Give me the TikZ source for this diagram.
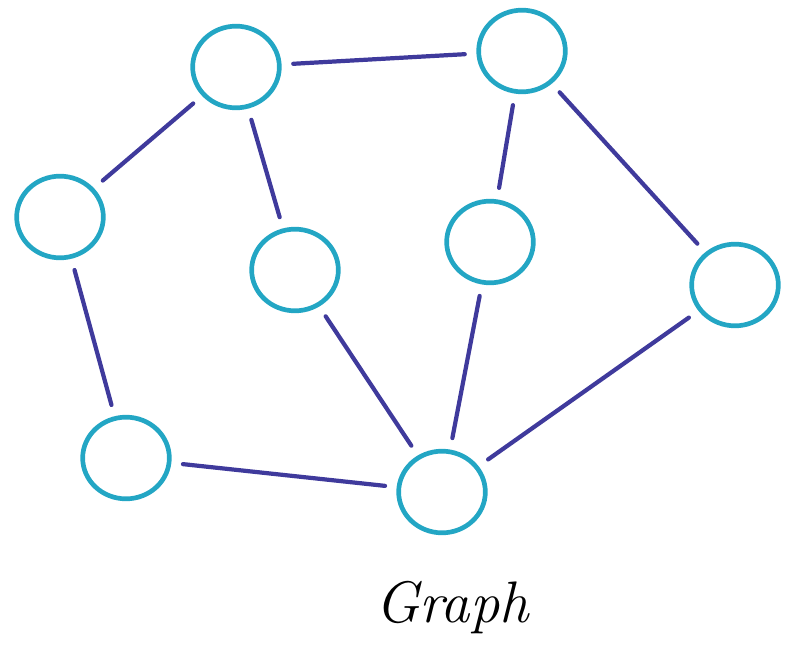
\documentclass[tikz,border=0pt]{standalone}
\usepackage{fontspec}
\usepackage{tikz}
\usetikzlibrary{shapes.geometric, calc}
\definecolor{vertexcol}{HTML}{23A6C4}
\definecolor{edgecol}{HTML}{3F3A9C}

\begin{document}
\begin{tikzpicture}[x=0.03cm, y=-0.03cm,
    vertex/.style={ellipse, draw=vertexcol, line width=4pt, minimum width=2.6cm, minimum height=2.45cm},
    link/.style={edgecol, line width=3.6pt, line cap=round, shorten >=0.35cm, shorten <=0.35cm}]
    % Page frame
    \useasboundingbox (0,0) rectangle (791,652);

    % Vertices
    \node[vertex] (a) at (236, 67) {};
    \node[vertex] (b) at (522, 51) {};
    \node[vertex] (c) at (60, 217) {};
    \node[vertex] (d) at (295, 270) {};
    \node[vertex] (e) at (490, 242) {};
    \node[vertex] (f) at (735, 285) {};
    \node[vertex] (g) at (126, 458) {};
    \node[vertex] (h) at (442, 492) {};

    % Edges
    \foreach \u/\v in {a/b, a/c, a/d, b/e, b/f, c/g, g/h, d/h, e/h, f/h} {
        \draw[link] (\u) -- (\v);
    }

    % Caption
    \node[font=\fontsize{50}{54}\selectfont\itshape\addfontfeature{LetterSpace=14}] (title) at (452, 608) {Graph};
\end{tikzpicture}
\end{document}
